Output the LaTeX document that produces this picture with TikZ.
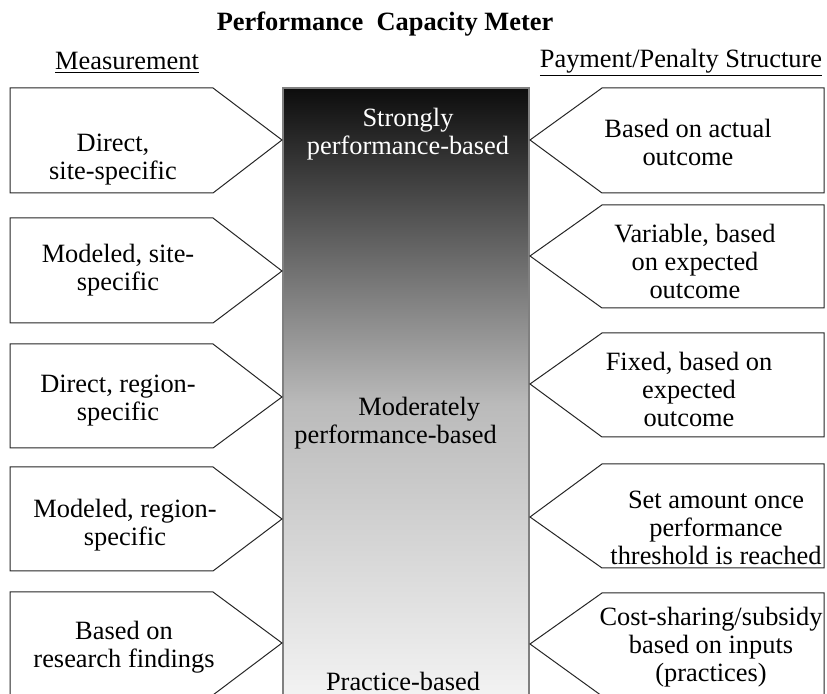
\documentclass[tikz,border=0pt]{standalone}
\usepackage{fontspec}
\setmainfont{Liberation Serif}
\usetikzlibrary{positioning}

\tikzset{
  arrowbox/.style={draw=black!85, fill=white, line width=0.5pt, line join=miter},
  boxtext/.style={align=center, inner sep=0pt, font=\fontsize{13.2}{14}\selectfont},
}

\begin{document}
\begin{tikzpicture}[x=0.5pt, y=-0.5pt]
    \useasboundingbox (0,0) rectangle (827,694);

    % Title and headings
    \node[boxtext, font=\fontsize{13.2}{14}\selectfont\bfseries] (title) at (385,24) {Performance\ \ Capacity Meter};
    \node[boxtext] (meashead) at (127,63) {\underline{Measurement}};
    \node[boxtext] (payhead) at (681,63) {\underline{Payment/Penalty Structure}};

    % Meter bar
    \shade[top color=black!95, bottom color=black!3, middle color=black!27] (283,88) rectangle (529,720);
    \draw[black!50, line width=1pt] (283,720) -- (283,88) -- (529,88) -- (529,720);

    % Measurement boxes (pointing right)
    \draw[arrowbox] (10,88) -- (213,88) -- (282,140) -- (213,193) -- (10,193) -- cycle;
    \draw[arrowbox] (10,218) -- (213,218) -- (282,271) -- (213,323) -- (10,323) -- cycle;
    \draw[arrowbox] (10,344) -- (213,344) -- (282,397) -- (213,448) -- (10,448) -- cycle;
    \draw[arrowbox] (10,467) -- (213,467) -- (282,519) -- (213,571) -- (10,571) -- cycle;
    \draw[arrowbox] (10,592) -- (213,592) -- (282,643) -- (213,695) -- (10,695) -- cycle;

    % Payment boxes (pointing left)
    \draw[arrowbox] (824,88) -- (602,88) -- (530,140) -- (602,193) -- (824,193) -- cycle;
    \draw[arrowbox] (824,205) -- (602,205) -- (530,256) -- (602,308) -- (824,308) -- cycle;
    \draw[arrowbox] (824,333) -- (602,333) -- (530,384) -- (602,437) -- (824,437) -- cycle;
    \draw[arrowbox] (824,464) -- (602,464) -- (530,517) -- (602,568) -- (824,568) -- cycle;
    \draw[arrowbox] (824,593) -- (602,593) -- (530,644) -- (602,696) -- (824,696) -- cycle;

    % Measurement texts
    \node[boxtext] (meas1) at (113,160) {Direct,\\site-specific};
    \node[boxtext] (meas2) at (118,270) {Modeled, site-\\specific};
    \node[boxtext] (meas3) at (118,401) {Direct, region-\\specific};
    \node[boxtext] (meas4) at (125,525) {Modeled, region-\\specific};
    \node[boxtext] (meas5) at (124,647) {Based on\\research findings};

    % Payment texts
    \node[boxtext] (pay1) at (688,142) {Based on actual\\outcome};
    \node[boxtext] (pay2) at (695,261) {Variable, based\\on expected\\outcome};
    \node[boxtext] (pay3) at (689,389) {Fixed, based on\\expected\\outcome};
    \node[boxtext] (pay4) at (716,528) {Set amount once\\performance\\threshold is reached};
    \node[boxtext] (pay5) at (711,647) {Cost-sharing/subsidy\\based on inputs\\(practices)};

    % Meter labels
    \node[boxtext, text=white] (strong) at (408,134) {Strongly\\performance-based};
    \node[boxtext, align=left, anchor=west] (moderate) at (294,423) {\hspace*{32pt}Moderately\\performance-based};
    \node[boxtext] (practice) at (403,681) {Practice-based};
\end{tikzpicture}
\end{document}
